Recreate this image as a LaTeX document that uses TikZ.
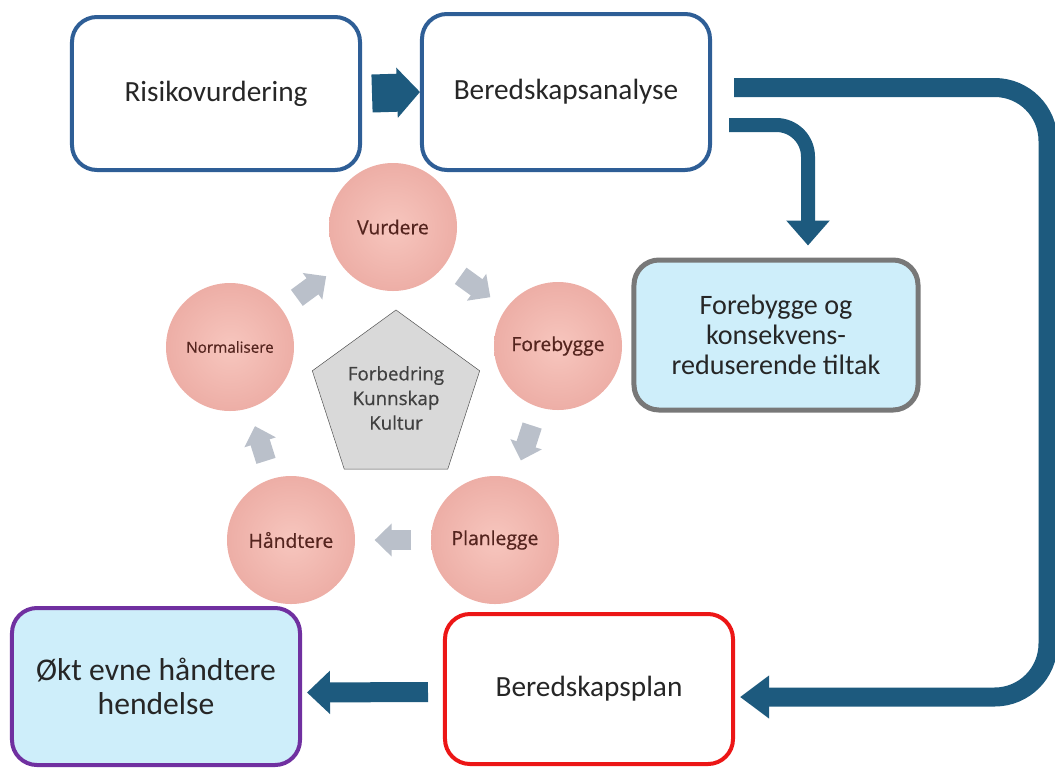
\documentclass[tikz,border=0pt]{standalone}
\usepackage{fontspec}
\setmainfont{Carlito}
\newfontfamily\cyclefont[FakeBold=0.6]{Open Sans}
\usetikzlibrary{shapes.geometric,arrows.meta,calc}

\definecolor{boxblue}{RGB}{46,94,150}
\definecolor{flowblue}{RGB}{29,90,126}
\definecolor{tiltakgray}{RGB}{120,120,120}
\definecolor{lightblue}{RGB}{206,238,250}
\definecolor{oktpurple}{RGB}{112,48,160}
\definecolor{planred}{RGB}{236,22,22}
\definecolor{pinkin}{RGB}{247,198,190}
\definecolor{pinkout}{RGB}{237,174,166}
\definecolor{cycletext}{RGB}{84,36,30}
\definecolor{cyclearrow}{RGB}{186,192,202}
\definecolor{pentfill}{RGB}{217,217,217}

\begin{document}
\begin{tikzpicture}[x=0.03cm, y=-0.03cm,
	box/.style={draw, rectangle, rounded corners=0.75cm, line width=0.12cm,
		minimum width=8.64cm, minimum height=4.65cm, align=center,
		text=black!85, font=\fontsize{25}{28}\selectfont},
	phase/.style={circle, shading=radial, inner color=pinkin, outer color=pinkout,
		minimum size=3.84cm, inner sep=0pt,
		text=cycletext, font=\cyclefont\fontsize{16.5}{19}\selectfont},
	cyclearr/.style={draw=cyclearrow, line width=0.6cm,
		-{Triangle[length=0.51cm, width=0.96cm]}},
	flow/.style={draw=flowblue, line width=#1}]

	\useasboundingbox (0,0) rectangle (1055,770);

	% Top row of boxes
	\node[box, draw=boxblue, minimum height=4.59cm] (risk) at (216, 93.5) {Risikovurdering};
	\node[box, draw=boxblue, minimum height=4.68cm] (ana) at (566, 92) {Beredskapsanalyse};

	% Measures box on the right
	\node[box, draw=tiltakgray, fill=lightblue, line width=0.15cm,
		minimum width=8.52cm, minimum height=4.5cm,
		font=\fontsize{24}{25.5}\selectfont] (tiltak) at (776, 335)
		{Forebygge og\\konsekvens-\\reduserende tiltak};

	% Bottom row of boxes
	\node[box, draw=oktpurple, fill=lightblue, minimum height=4.71cm,
		font=\fontsize{27}{28.5}\selectfont] (okt) at (156, 686.5)
		{Økt evne håndtere\\hendelse};
	\node[box, draw=planred, minimum height=4.5cm] (plan) at (589, 689) {Beredskapsplan};

	% The cycle in the middle
	\node[regular polygon, regular polygon sides=5, draw=black!70, fill=pentfill,
		minimum size=5.28cm, inner sep=0pt, align=center, text=black!75,
		font=\cyclefont\fontsize{16}{21}\selectfont] (core) at (396, 398)
		{Forbedring\\Kunnskap\\Kultur};

	\node[phase] (vurd) at (393, 227) {Vurdere};
	\node[phase] (foreb) at (558, 346) {Forebygge};
	\node[phase] (planl) at (495, 540) {Planlegge};
	\node[phase] (handt) at (291, 540) {Håndtere};
	\node[phase, font=\cyclefont\fontsize{13}{15}\selectfont] (norm) at (230, 347) {Normalisere};

	\draw[cyclearr] ($(norm)!0.41!(vurd)$) -- ($(norm)!0.59!(vurd)$);
	\draw[cyclearr] ($(vurd)!0.41!(foreb)$) -- ($(vurd)!0.59!(foreb)$);
	\draw[cyclearr] ($(foreb)!0.41!(planl)$) -- ($(foreb)!0.59!(planl)$);
	\draw[cyclearr] ($(planl)!0.41!(handt)$) -- ($(planl)!0.59!(handt)$);
	\draw[cyclearr] ($(handt)!0.41!(norm)$) -- ($(handt)!0.59!(norm)$);

	% Flow arrows
	\draw[flow=1.14cm, -{Triangle[length=0.69cm, width=1.47cm]}]
		($(risk.east)+(10,0)$) -- (ana.west);
	\draw[flow=0.57cm, rounded corners=1.6cm, -{Triangle[length=0.87cm, width=1.23cm]}]
		($(ana.east)+(22,-4.5)$) -- (1048,87.5) -- (1048,697) -- ($(plan.east)+(5,8)$);
	\draw[flow=0.42cm, rounded corners=0.95cm, -{Triangle[length=0.75cm, width=1.26cm]}]
		($(ana.east)+(17,33)$) -- (808,125) -- ($(tiltak.north)+(32,-12)$);
	\draw[flow=0.6cm, -{Triangle[length=0.69cm, width=1.26cm]}]
		($(plan.west)+(-15,3)$) -- ($(okt.east)+(5,6)$);
\end{tikzpicture}
\end{document}
